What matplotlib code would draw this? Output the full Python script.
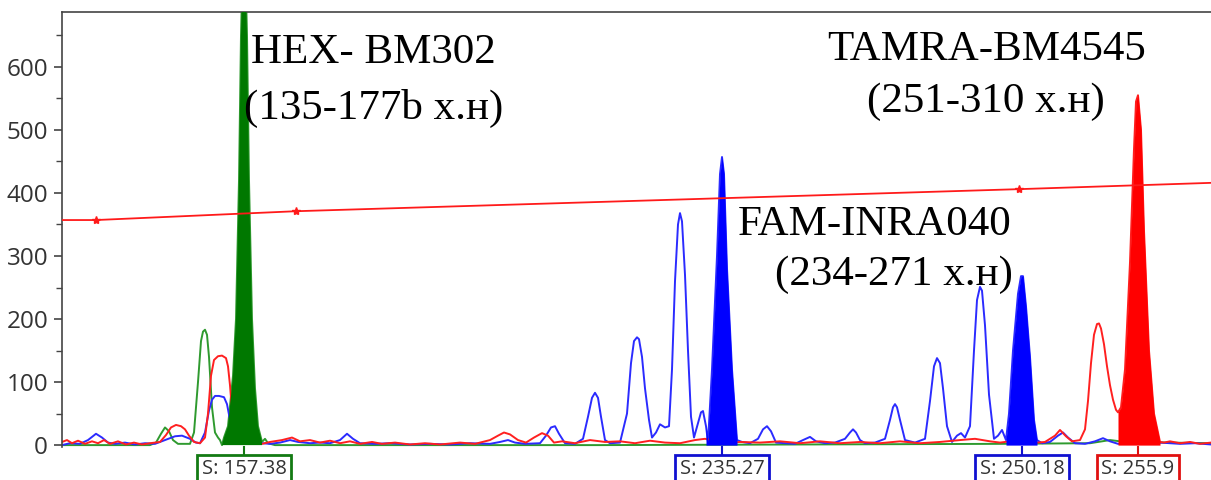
import numpy as np
import matplotlib.pyplot as plt
from matplotlib.transforms import blended_transform_factory

# ---- data (x = scan position, y = RFU) ----
green_x = [62, 150, 156, 161, 165, 169, 173, 178, 190, 194, 198, 201, 203, 205, 207,
           209, 212, 215, 218, 220,
           222, 224, 228, 233, 236, 239, 241, 243, 245, 247, 249, 252, 255, 258,
           262, 265, 268, 275, 600, 1000, 1090, 1110, 1125, 1211]
green_y = [0, 0, 4, 18, 28, 22, 8, 2, 2, 20, 100, 165, 180, 183, 175,
           140, 60, 20, 12, 8,
           0, 12, 30, 110, 200, 420, 650, 780, 780, 650, 420, 200, 90, 30,
           5, 10, 3, 0, 0, 2, 3, 8, 5, 3]

red_x = [62, 67, 72, 78, 85, 92, 98, 104, 110, 118, 126, 134, 142, 150, 160, 166,
         171, 176, 181, 185, 189, 194, 200, 205, 208, 211, 214, 218, 222, 226, 228,
         230, 232, 234, 237, 240,
         255, 262, 270, 282, 292, 300, 310, 320, 330, 340, 350, 360, 372, 382,
         395, 410, 425, 440, 460, 475, 490, 498, 504, 510, 518, 526, 534, 542,
         548, 554, 562, 575, 590, 605, 620, 635, 650, 665, 680, 695, 705, 715,
         725, 740, 760, 780, 800, 820, 840, 860, 880, 900, 920, 940, 960, 975,
         990, 1000, 1010, 1030, 1045, 1055, 1060, 1066, 1072, 1080, 1085, 1088,
         1091, 1094, 1097, 1099, 1101, 1104, 1107, 1110, 1113, 1116, 1118, 1121,
         1125, 1130, 1134, 1136, 1138, 1141, 1144, 1149, 1154, 1160, 1164, 1170,
         1180, 1190, 1200, 1211]
red_y = [5, 8, 3, 7, 2, 6, 3, 8, 2, 6, 1, 4, 1, 3, 5, 16,
         28, 32, 30, 25, 15, 5, 3, 12, 50, 110, 135, 141, 142, 138, 125,
         95, 55, 20, 6, 2,
         3, 2, 5, 8, 12, 6, 8, 4, 7, 3, 6, 2, 5, 2,
         4, 1, 3, 1, 4, 2, 8, 15, 20, 17, 8, 4, 12, 19,
         15, 4, 6, 3, 8, 5, 6, 3, 7, 4, 3, 8, 10, 7,
         3, 5, 4, 6, 3, 6, 3, 5, 3, 6, 3, 5, 8, 10,
         6, 4, 6, 3, 5, 15, 24, 14, 6, 8, 25, 70,
         130, 175, 192, 193, 185, 160, 125, 95, 72, 56, 52, 60,
         120, 290, 470, 545, 555, 500, 340, 150, 50, 5, 4, 6,
         3, 5, 2, 4]

blue_x = [62, 70, 80, 88, 96, 102, 108, 115, 125, 135, 145, 155, 165, 175, 182,
          190, 196, 200, 205, 209, 212, 215, 219, 224, 227, 230, 233, 236, 262,
          270, 280, 290, 298, 310, 320, 330, 340, 347, 353, 360, 375, 390, 410,
          430, 450, 470, 490, 500, 508, 515, 525, 540, 546, 551, 555, 559, 565,
          575, 583, 588, 592, 595, 598, 601, 605, 610, 620, 627, 631, 634, 637,
          639, 642, 645, 649, 652, 656, 660, 665, 669, 672, 675, 678, 680, 682,
          685, 688, 691, 694, 698, 701, 703, 706, 708, 712, 717, 720, 722, 724,
          727, 732, 737, 742, 750, 758, 763, 767, 771, 776, 785, 795, 803, 810,
          816, 825, 835, 845, 850, 853, 856, 860, 865, 875, 885, 890, 893, 895,
          897, 900, 905, 915, 925, 930, 934, 937, 940, 943, 947, 952, 957, 961,
          965, 970, 974, 977, 980, 982, 985, 989, 994, 998, 1002, 1006, 1009, 1013,
          1018, 1021, 1023, 1026, 1030, 1034, 1037, 1042, 1050, 1058, 1063, 1068,
          1075, 1085, 1095, 1103, 1110, 1118, 1130, 1145, 1160, 1180, 1195, 1211]
blue_y = [0, 3, 2, 8, 18, 12, 4, 2, 4, 1, 3, 2, 8, 14, 15,
          10, 4, 3, 20, 55, 72, 78, 78, 76, 65, 40, 15, 5, 3,
          2, 4, 8, 5, 3, 4, 3, 8, 18, 10, 3, 2, 3, 1,
          2, 1, 3, 2, 5, 8, 4, 2, 3, 15, 28, 30, 18, 3,
          2, 10, 45, 75, 83, 75, 45, 8, 3, 4, 50, 130, 165, 171,
          168, 140, 90, 40, 12, 20, 33, 28, 30, 120, 260, 350, 368, 355,
          270, 150, 45, 12, 35, 52, 54, 30, 5, 120, 300, 430, 457, 430,
          280, 120, 8, 5, 3, 10, 25, 30, 22, 4, 3, 2, 8, 13,
          6, 3, 4, 10, 20, 25, 20, 8, 3, 4, 10, 40, 60, 65,
          60, 40, 8, 4, 10, 70, 125, 138, 130, 90, 30, 5, 15, 19,
          12, 30, 150, 230, 251, 245, 190, 80, 10, 15, 24, 8, 50, 150,
          240, 268, 268, 220, 140, 40, 8, 3, 5, 15, 20, 12,
          3, 2, 6, 11, 6, 2, 3, 2, 4, 2, 3, 1]

# filled (called) peaks: (trace, start, end)
called = [("green", 222, 262), ("blue", 706, 737), ("blue", 1006, 1037), ("red", 1118, 1160)]

# sizing line (red, with stars)
size_x = [62, 96, 296, 1019, 1211]
size_y = [357, 357, 371, 406, 416]
size_marks = [96, 296, 1019]

# peak call labels
call_pos = [244, 722, 1022, 1138]
call_text = ["S: 157.38", "S: 235.27", "S: 250.18", "S: 255.9"]
call_color = ["#137a13", "#1010d0", "#1010d0", "#e01010"]

line_col = {"green": "#2f9a2f", "blue": "#2b2bff", "red": "#ff2020"}
fill_col = {"green": "#007800", "blue": "#0000ff", "red": "#ff0000"}
traces = {"green": (green_x, green_y), "blue": (blue_x, blue_y), "red": (red_x, red_y)}

fig = plt.figure(figsize=(12.11, 4.8), dpi=100)
ax = fig.add_axes([62 / 1211, 33 / 480, 1 - 62 / 1211, 435 / 480])

for name in ["green", "blue", "red"]:
    x, y = traces[name]
    ax.plot(x, y, color=line_col[name], linewidth=1.4, solid_joinstyle="round", zorder=2)

for name, a, b in called:
    x, y = np.array(traces[name][0]), np.array(traces[name][1])
    m = (x >= a) & (x <= b)
    ax.fill_between(x[m], 0, y[m], color=fill_col[name], linewidth=0, zorder=3)

ax.plot(size_x, size_y, color="#ff1a1a", linewidth=1.3, zorder=4)
ax.plot(size_marks, np.interp(size_marks, size_x, size_y), linestyle="none",
        marker="*", markersize=6, color="#ff1a1a", zorder=4)

ax.set_xlim(62, 1211)
ax.set_ylim(-3, 687)
ax.set_xticks([])
ax.set_yticks(range(0, 700, 100))
ax.set_yticks(range(50, 700, 100), minor=True)
ax.tick_params(axis="y", which="major", length=6, width=1.2, color="#444444",
               labelsize=17.5, labelcolor="#333333", pad=4)
ax.tick_params(axis="y", which="minor", length=4, width=1.0, color="#444444")
for lab in ax.get_yticklabels():
    lab.set_fontfamily("Open Sans")
ax.spines["right"].set_visible(False)
ax.spines["bottom"].set_visible(False)
for s in ["left", "top"]:
    ax.spines[s].set_color("#444444")
    ax.spines[s].set_linewidth(1.2)

# dye / marker annotations
serif = dict(family="Liberation Serif", fontsize=31, color="black", zorder=5)
ax.text(251, 606, "HEX- BM302", ha="left", va="baseline", **serif)
ax.text(244, 518, "(135-177b х.н)", ha="left", va="baseline", **serif)
ax.text(987, 611, "TAMRA-BM4545", ha="center", va="baseline", **serif)
ax.text(986, 529, "(251-310 х.н)", ha="center", va="baseline", **serif)
ax.text(875, 333, "FAM-INRA040", ha="center", va="baseline", **serif)
ax.text(894, 254, "(234-271 х.н)", ha="center", va="baseline", **serif)

# size-call boxes below the baseline
tr = blended_transform_factory(ax.transData, ax.transAxes)
for xp, txt, col in zip(call_pos, call_text, call_color):
    ax.plot([xp, xp], [0.0, -0.025], transform=tr, color=col, linewidth=1.5, clip_on=False)
    ax.text(xp, -0.028, txt, transform=tr, ha="center", va="top", fontsize=14.5,
            family="Open Sans", color="#333333",
            bbox=dict(boxstyle="square,pad=0.22", facecolor="white", edgecolor=col, linewidth=2))

fig.savefig("out.png", dpi=100)
